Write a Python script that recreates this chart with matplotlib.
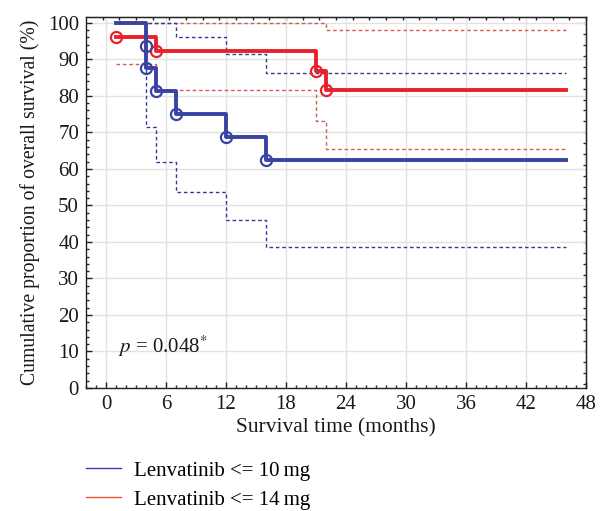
import matplotlib
matplotlib.use("Agg")
import matplotlib.pyplot as plt
from matplotlib.lines import Line2D
from matplotlib.ticker import MultipleLocator, FixedLocator

plt.rcParams['font.family'] = ['Liberation Serif', 'DejaVu Serif']
plt.rcParams['mathtext.fontset'] = 'stix'

# ---- data (months, survival %) ----
blue_t = [1, 4, 4, 5, 7, 12, 16, 46]
blue_s = [100, 93.75, 87.5, 81.25, 75, 68.75, 62.5, 62.5]
blue_ev_t = [4, 4, 5, 7, 12, 16]
blue_ev_s = [93.75, 87.5, 81.25, 75, 68.75, 62.5]
blue_up_t = [1, 7, 12, 16, 46]
blue_up_s = [100, 96.1, 91.4, 86.2, 86.2]
blue_lo_t = [1, 4, 5, 7, 12, 16, 46]
blue_lo_s = [100, 71.4, 62.0, 53.8, 46.0, 38.7, 38.7]

red_t = [1, 5, 21, 22, 46]
red_s = [96.2, 92.2, 86.8, 81.6, 81.6]
red_ev_t = [1, 5, 21, 22]
red_ev_s = [96.2, 92.2, 86.8, 81.6]
red_up_t = [1, 22, 46]
red_up_s = [100, 98.1, 98.1]
red_lo_t = [1, 5, 21, 22, 46]
red_lo_s = [88.8, 81.6, 73.0, 65.5, 65.5]

legend_labels = ['Lenvatinib <= 10\u2009mg', 'Lenvatinib <= 14\u2009mg']
x_ticks = [0, 6, 12, 18, 24, 30, 36, 42, 48]
y_ticks = [0, 10, 20, 30, 40, 50, 60, 70, 80, 90, 100]

BLUE = '#3943a3'
RED = '#e8212c'
BLUE_D = '#33399c'
RED_D = '#d65a55'
FS = 15

fig = plt.figure(figsize=(6.05, 5.11), dpi=100)
ax = fig.add_axes([86/605, 1-388/511, 500/605, 371/511])

# confidence bands
dash = (2.6, 2.0)
ax.step(red_up_t, red_up_s, where='post', color=RED_D, lw=1.0, dashes=dash, zorder=2)
ax.step(red_lo_t, red_lo_s, where='post', color=RED_D, lw=1.0, dashes=dash, zorder=2)
ax.step(blue_up_t, blue_up_s, where='post', color=BLUE_D, lw=1.0, dashes=dash, zorder=2)
ax.step(blue_lo_t, blue_lo_s, where='post', color=BLUE_D, lw=1.0, dashes=dash, zorder=2)

# survival curves
ax.step(red_t, red_s, where='post', color=RED, lw=2.8, zorder=3)
ax.plot(red_ev_t, red_ev_s, 'o', ms=8, mfc='none', mec=RED, mew=1.6, zorder=4)
ax.step(blue_t, blue_s, where='post', color=BLUE, lw=2.8, zorder=5)
ax.plot(blue_ev_t, blue_ev_s, 'o', ms=8, mfc='none', mec=BLUE, mew=1.6, zorder=6)

ax.set_xlim(-2, 48)
ax.set_ylim(0, 101.6)
ax.xaxis.set_major_locator(FixedLocator(x_ticks))
ax.yaxis.set_major_locator(FixedLocator(y_ticks))
ax.xaxis.set_minor_locator(MultipleLocator(1))
ax.yaxis.set_minor_locator(MultipleLocator(2))
ax.grid(True, which='major', color='#e2e2e2', lw=1.0, zorder=0)
ax.set_axisbelow(True)
ax.tick_params(which='both', direction='in', colors='#222222', labelcolor='#1a1a1a',
               labelsize=FS)
ax.tick_params(which='major', length=4, width=1)
ax.tick_params(which='minor', length=2.5, width=1)
ax.tick_params(axis='x', pad=5)
ax.tick_params(axis='y', pad=5)
for s in ax.spines.values():
    s.set_color('#222222')
    s.set_linewidth(1.0)

# top / right tick marks
sx = ax.secondary_xaxis('top')
sx.set_xticks([-1/3 + i * 5/3 for i in range(30)])
sx.tick_params(direction='in', length=2.5, width=1, labeltop=False, colors='#222222')
sx.set_xticklabels([])
sy = ax.secondary_yaxis('right')
sy.set_yticks([1 + i * 3 for i in range(34)])
sy.tick_params(direction='in', length=2.5, width=1, labelright=False, colors='#222222')
sy.set_yticklabels([])

ax.set_xlabel('Survival time (months)', fontsize=FS + 0.5, color='#1a1a1a', labelpad=3)
ax.set_ylabel('Cumulative proportion of overall survival (%)', fontsize=14.2,
              color='#1a1a1a', labelpad=6)

ax.text(1.2, 11.3, r'$p$ = 0.048$^{*}$', fontsize=FS, color='#1a1a1a',
        va='center', ha='left')

handles = [Line2D([], [], color='#3b3bb5', lw=1.0), Line2D([], [], color='#f0553a', lw=1.0)]
fig.legend(handles, legend_labels, loc='upper left', bbox_to_anchor=(86/605, 1-461/511),
           frameon=False, fontsize=FS, handlelength=1.7, handletextpad=0.6,
           labelspacing=0.45, borderaxespad=0, borderpad=0)

fig.savefig('out.png', dpi=100)
